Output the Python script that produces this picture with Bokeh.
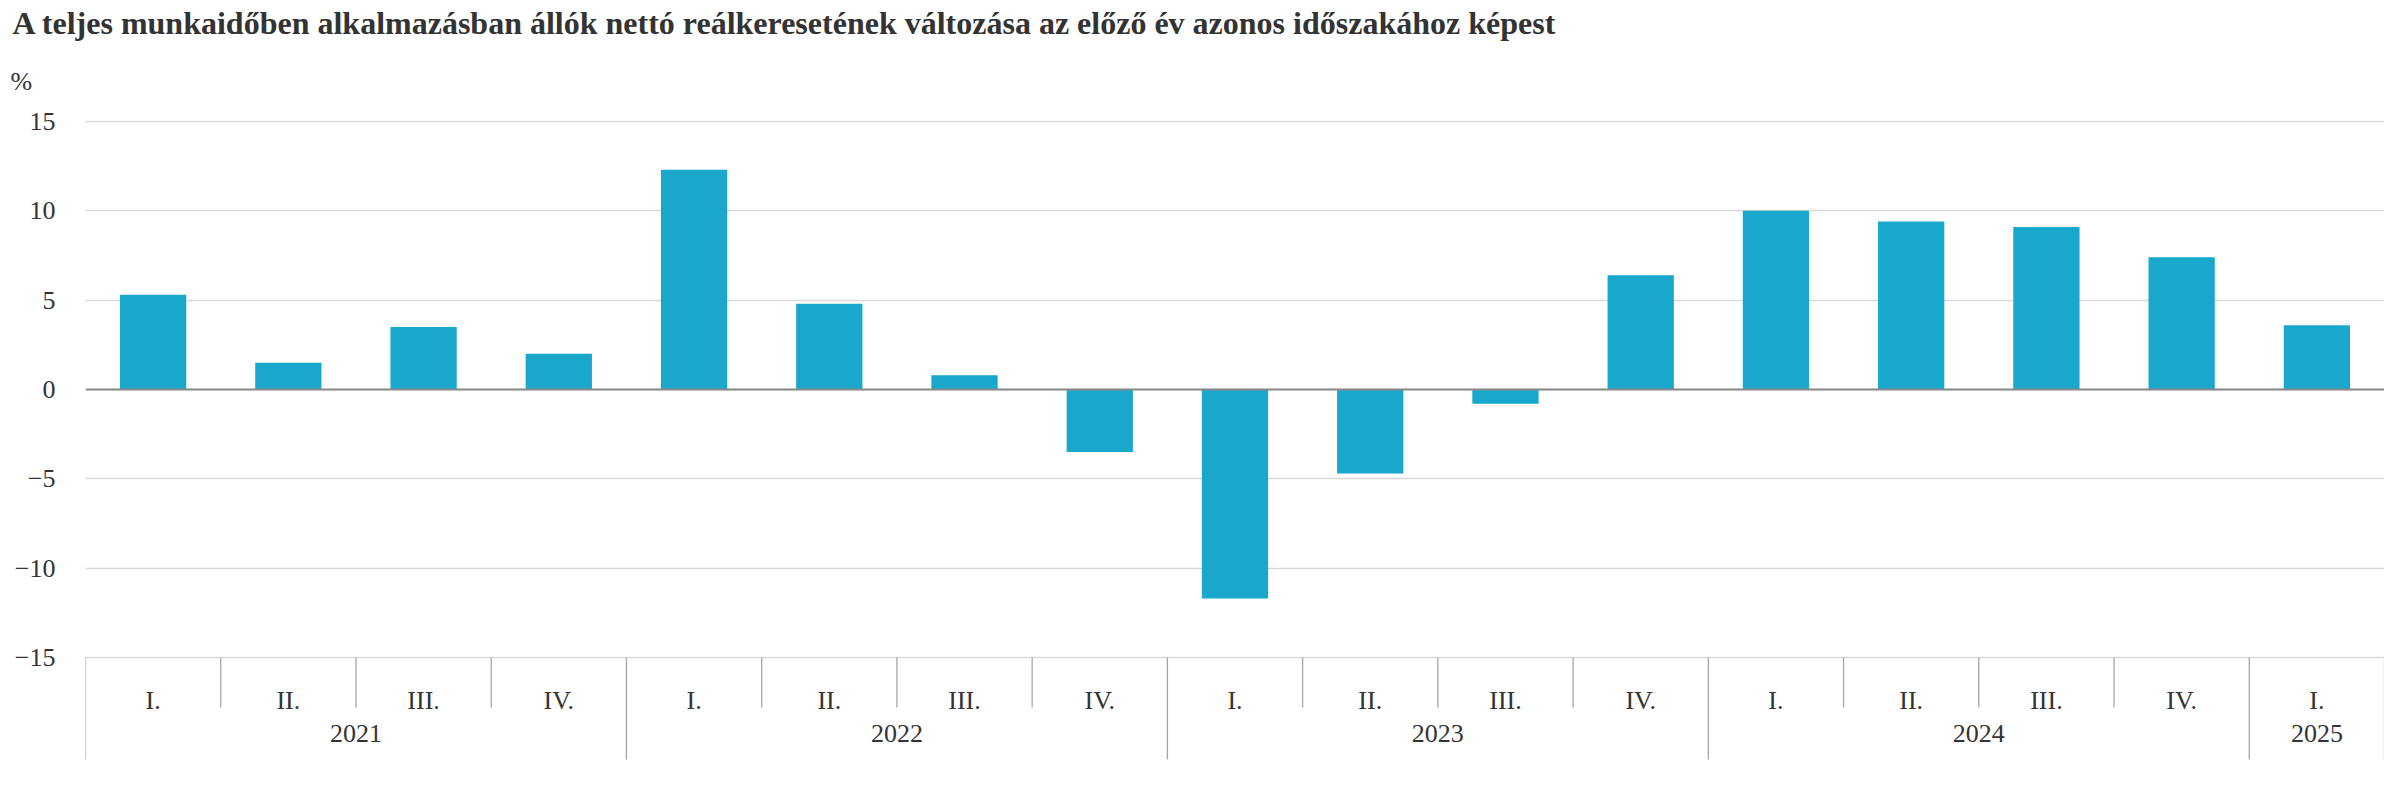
from bokeh.plotting import figure
from bokeh.models import Range1d, FixedTicker, Span, Title
from bokeh.core.properties import value
from bokeh.embed import file_html
from bokeh.resources import INLINE

# ---------------- data ----------------
title_text = ("A teljes munkaidőben alkalmazásban állók nettó reálkeresetének "
              "változása az előző év azonos időszakához képest")
unit_label = "%"
years = ["2021", "2021", "2021", "2021",
         "2022", "2022", "2022", "2022",
         "2023", "2023", "2023", "2023",
         "2024", "2024", "2024", "2024",
         "2025"]
quarters = ["I.", "II.", "III.", "IV.",
            "I.", "II.", "III.", "IV.",
            "I.", "II.", "III.", "IV.",
            "I.", "II.", "III.", "IV.",
            "I."]
values = [5.3, 1.5, 3.5, 2.0,
          12.3, 4.8, 0.8, -3.5,
          -11.7, -4.7, -0.8, 6.4,
          10.0, 9.4, 9.1, 7.4,
          3.6]
y_ticks = [-15, -10, -5, 0, 5, 10, 15]
y_tick_labels = {t: (("\u2212" + str(abs(t))) if t < 0 else str(t)) for t in y_ticks}

# ---------------- layout / style ----------------
W, H = 2384, 784
FRAME_LEFT = 85
FRAME_TOP, FRAME_BOTTOM = 120, 762         # figure pixels
ZERO_PX = 389                              # figure pixel of y = 0
PX_PER_UNIT = 17.87
y_max = (ZERO_PX - FRAME_TOP) / PX_PER_UNIT
y_min = -(FRAME_BOTTOM - ZERO_PX) / PX_PER_UNIT

FONT = "Liberation Serif"
TXT = "#333333"
BAR = "#19A7CB"
FS = "26px"

n = len(values)
xs = [i + 0.5 for i in range(n)]

p = figure(width=W, height=H,
           x_range=Range1d(0, n), y_range=Range1d(y_min, y_max),
           output_backend="svg", toolbar_location=None,
           x_axis_location=None,
           min_border_left=FRAME_LEFT, min_border_right=0,
           min_border_top=FRAME_TOP, min_border_bottom=H - FRAME_BOTTOM)
p.outline_line_color = None
p.background_fill_color = "white"
p.border_fill_color = "white"

# titles (outer: main title, inner: unit)
p.title = Title(text=title_text, align="left", offset=12 - FRAME_LEFT,
                text_font=FONT, text_font_size="32px", text_font_style="bold",
                text_color=TXT, standoff=0)
p.add_layout(Title(text=unit_label, align="left", offset=10 - FRAME_LEFT,
                   text_font=FONT, text_font_size=FS, text_font_style="normal",
                   text_color=TXT, standoff=49), "above")

# y axis
yax = p.yaxis[0]
yax.ticker = FixedTicker(ticks=y_ticks)
yax.major_label_overrides = y_tick_labels
yax.axis_line_color = None
yax.major_tick_line_color = None
yax.minor_tick_line_color = None
yax.major_tick_out = 0
yax.major_tick_in = 0
yax.major_label_standoff = 30
yax.major_label_text_font = FONT
yax.major_label_text_font_size = FS
yax.major_label_text_color = TXT

p.xgrid.visible = False
p.ygrid.ticker = FixedTicker(ticks=y_ticks)
p.ygrid.grid_line_color = "#D9D9D9"
p.ygrid.grid_line_width = 1.5

# bars
p.vbar(x=xs, top=values, bottom=0, width=0.49, fill_color=BAR, line_color=None)

# zero line
p.add_layout(Span(location=0, dimension="width", line_color="#898989", line_width=2))

# category axis (two levels) drawn below the -15 grid line
base = y_ticks[0]
q_sep_len = 50 / PX_PER_UNIT
y_sep_len = 102 / PX_PER_UNIT
q_x, y_x = [], []
for i in range(n + 1):
    if i == 0 or i == n or years[i] != years[i - 1]:
        y_x.append(i)
    else:
        q_x.append(i)
p.segment(x0=q_x, y0=[base] * len(q_x), x1=q_x, y1=[base - q_sep_len] * len(q_x),
          line_color="#A6A6A6", line_width=1.3)
p.segment(x0=y_x, y0=[base] * len(y_x), x1=y_x, y1=[base - y_sep_len] * len(y_x),
          line_color="#A6A6A6", line_width=1.3)

p.text(x=xs, y=[base - 43 / PX_PER_UNIT] * n, text=quarters,
       text_align="center", text_baseline="middle",
       text_font=value(FONT), text_font_size=FS, text_color=TXT)

year_names = []
year_groups = []
for i, yv in enumerate(years):
    if yv not in year_names:
        year_names.append(yv)
        year_groups.append([])
    year_groups[year_names.index(yv)].append(xs[i])
year_centers = [sum(c) / len(c) for c in year_groups]
p.text(x=year_centers, y=[base - 76 / PX_PER_UNIT] * len(year_names), text=year_names,
       text_align="center", text_baseline="middle",
       text_font=value(FONT), text_font_size=FS, text_color=TXT)

open("out.html", "w").write(file_html(p, INLINE))
